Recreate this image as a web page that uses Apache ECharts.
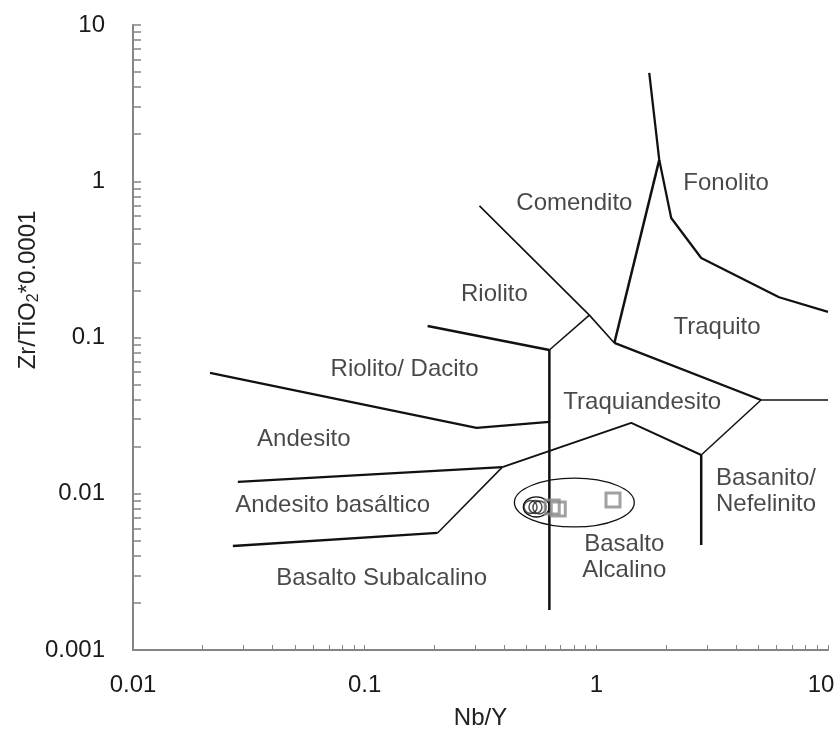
<!DOCTYPE html>
<html><head><meta charset="utf-8">
<script src="https://cdn.jsdelivr.net/npm/echarts@6/dist/echarts.min.js"></script>
<style>html,body{margin:0;padding:0;background:#fff}#c{width:836px;height:738px}</style>
</head><body><div id="c"></div>
<script>
// ---- axis ticks ----
const xDecades = [0.01, 0.1, 1, 10];
const yDecades = [0.001, 0.01, 0.1, 1, 10];
const minorSteps = [1, 2, 3, 4, 5, 6, 7, 8, 9];

// ---- classification boundaries [Nb/Y, Zr/TiO2*0.0001] ----
const lineComenditoRiolito = [[0.313, 0.695], [0.933, 0.139], [1.196, 0.0923]];
const lineComenditoFonolito = [[1.196, 0.0923], [1.869, 1.37]];
const lineFonolitoTraquito = [[1.692, 4.93], [1.869, 1.37], [2.105, 0.582], [2.836, 0.323], [6.15, 0.181], [10, 0.146]];
const lineTraquitoTraquiandesito = [[1.196, 0.0923], [5.14, 0.0398]];
const lineTraquitoTail = [[5.14, 0.0398], [10, 0.0398]];
const lineTraquiandesitoBase = [[0.393, 0.0148], [1.415, 0.0284], [2.836, 0.0177]];
const lineTraquiandesitoRight = [[2.836, 0.0177], [5.14, 0.0398]];
const lineBasanito = [[2.836, 0.0177], [2.836, 0.0047]];
const lineAlcalino = [[0.627, 0.0832], [0.627, 0.0018]];
const lineRiolitoBase = [[0.187, 0.1186], [0.627, 0.0832]];
const lineRiolitoTraq = [[0.627, 0.0832], [0.933, 0.139]];
const lineDacitoAndesito = [[0.0215, 0.0593], [0.304, 0.0264], [0.627, 0.0288]];
const lineAndesitoBasaltico = [[0.02836, 0.0119], [0.393, 0.0148]];
const lineBasalticoSubalcalino = [[0.02698, 0.00463], [0.2064, 0.00561]];
const lineSubalcalinoDiag = [[0.2064, 0.00561], [0.393, 0.0148]];

// ---- samples ----
const circleSamples = [[0.520, 0.00822], [0.546, 0.00822], [0.568, 0.00818]];
const squareSamples = [[0.645, 0.00822], [0.685, 0.00798], [1.18, 0.00912]];

// ---- ellipses [xmin, xmax, ymin, ymax] ----
const ellipses = [[0.443, 1.458, 0.00613, 0.0126], [0.484, 0.627, 0.0071, 0.00955]];

// ---- field names [x, y, text] ----
const regionLabels = [
  [3.63, 0.975, 'Fonolito'],
  [0.804, 0.726, 'Comendito'],
  [0.363, 0.190, 'Riolito'],
  [3.32, 0.1167, 'Traquito'],
  [0.1487, 0.0628, 'Riolito/ Dacito'],
  [1.578, 0.0387, 'Traquiandesito'],
  [0.0546, 0.0224, 'Andesito'],
  [0.0728, 0.00847, 'Andesito basáltico'],
  [5.40, 0.0104, 'Basanito/\nNefelinito'],
  [1.32, 0.00394, 'Basalto\nAlcalino'],
  [0.1184, 0.00289, 'Basalto Subalcalino']
];

function tickValues(decades) {
  const out = [];
  decades.forEach((d, i) => {
    if (i === decades.length - 1) { out.push(d); return; }
    minorSteps.forEach(m => out.push(+(d * m).toPrecision(6)));
  });
  return out;
}

const FONT = '"Liberation Sans", Arial, sans-serif';
const AXIS_GRAY = '#858585';

function boundary(data, width) {
  return {
    type: 'line', data: data, symbol: 'none', silent: true, z: 3,
    lineStyle: { color: '#111', width: width }
  };
}

const chart = echarts.init(document.getElementById('c'), null, { renderer: 'canvas' });
chart.setOption({
  animation: false,
  backgroundColor: '#fff',
  grid: { left: 133, right: 8, top: 25, bottom: 88, containLabel: false, outerBoundsMode: 'none' },
  xAxis: {
    type: 'log', logBase: 10, min: 0.01, max: 10,
    name: 'Nb/Y', nameLocation: 'middle', nameGap: 56,
    nameTextStyle: { color: '#222', fontSize: 24, fontFamily: FONT },
    axisLine: { show: true, lineStyle: { color: AXIS_GRAY, width: 2 } },
    axisTick: { show: true, inside: true, length: 5, customValues: tickValues(xDecades), lineStyle: { color: AXIS_GRAY, width: 1 } },
    minorTick: { show: false },
    axisLabel: {
      color: '#1a1a1a', fontSize: 24, fontFamily: FONT, margin: 23,
      formatter: function (v) { return v >= 10 ? '{r|' + v + '}' : String(v); },
      rich: { r: { padding: [0, 14, 0, 0], fontSize: 24, fontFamily: FONT, color: '#1a1a1a' } }
    },
    splitLine: { show: false }
  },
  yAxis: {
    type: 'log', logBase: 10, min: 0.001, max: 10,
    axisLine: { show: true, onZero: false, lineStyle: { color: AXIS_GRAY, width: 2 } },
    axisTick: { show: true, inside: true, length: 8, customValues: tickValues(yDecades), lineStyle: { color: AXIS_GRAY, width: 1.5 } },
    minorTick: { show: false },
    axisLabel: { color: '#1a1a1a', fontSize: 24, fontFamily: FONT, margin: 28 },
    splitLine: { show: false }
  },
  graphic: [{
    type: 'text', x: 28, y: 290, rotation: Math.PI / 2,
    style: {
      text: 'Zr/TiO{sub|2}*0.0001', fill: '#222', fontSize: 24, fontFamily: FONT,
      align: 'center', verticalAlign: 'middle', lineHeight: 28,
      rich: { sub: { fontSize: 16, lineHeight: 16, verticalAlign: 'bottom', fill: '#222', fontFamily: FONT } }
    }
  }],
  series: [
    boundary(lineComenditoRiolito, 1.6),
    boundary(lineComenditoFonolito, 2.5),
    boundary(lineFonolitoTraquito, 2.3),
    boundary(lineTraquitoTraquiandesito, 2.3),
    boundary(lineTraquitoTail, 1.5),
    boundary(lineTraquiandesitoBase, 2),
    boundary(lineTraquiandesitoRight, 1.5),
    boundary(lineBasanito, 2.5),
    boundary(lineAlcalino, 2.5),
    boundary(lineRiolitoBase, 2.5),
    boundary(lineRiolitoTraq, 1.5),
    boundary(lineDacitoAndesito, 2.3),
    boundary(lineAndesitoBasaltico, 2.3),
    boundary(lineBasalticoSubalcalino, 2.3),
    boundary(lineSubalcalinoDiag, 1.5),
    {
      type: 'custom', silent: true, z: 4,
      data: ellipses,
      encode: { x: [0, 1], y: [2, 3] },
      renderItem: function (params, api) {
        const p1 = api.coord([api.value(0), api.value(3)]);
        const p2 = api.coord([api.value(1), api.value(2)]);
        const cx = (p1[0] + p2[0]) / 2, cy = (p1[1] + p2[1]) / 2;
        const rx = Math.abs(p2[0] - p1[0]) / 2, ry = Math.abs(p2[1] - p1[1]) / 2;
        return {
          type: 'path',
          shape: { pathData: 'M ' + (cx - rx) + ' ' + cy + ' A ' + rx + ' ' + ry + ' 0 1 0 ' + (cx + rx) + ' ' + cy + ' A ' + rx + ' ' + ry + ' 0 1 0 ' + (cx - rx) + ' ' + cy + ' Z' },
          style: { fill: 'none', stroke: '#111', lineWidth: 1.3 }
        };
      }
    },
    {
      type: 'scatter', data: circleSamples, symbol: 'circle', symbolSize: 13, z: 5, silent: true,
      itemStyle: { color: 'rgba(0,0,0,0)', borderColor: '#222', borderWidth: 1.5 }
    },
    {
      type: 'scatter', data: squareSamples, symbol: 'rect', symbolSize: 14, z: 5, silent: true,
      itemStyle: { color: 'rgba(0,0,0,0)', borderColor: '#8a8a8a', borderWidth: 3 }
    },
    {
      type: 'scatter', symbolSize: 1, silent: true, z: 6,
      itemStyle: { color: 'rgba(0,0,0,0)' },
      data: regionLabels.map(r => ({ value: [r[0], r[1]], name: r[2] })),
      label: { show: true, position: 'inside', formatter: '{b}', color: '#1a1a1a', fontSize: 24, fontFamily: FONT, lineHeight: 26 }
    }
  ]
});
</script>
</body></html>
